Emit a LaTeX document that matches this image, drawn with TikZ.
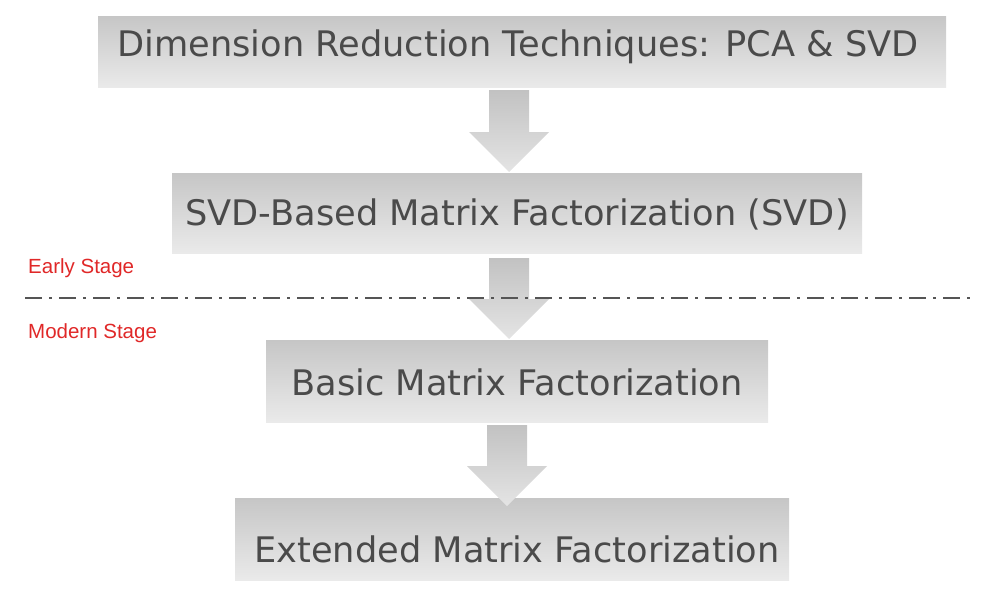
\documentclass[tikz,border=0pt]{standalone}
\usepackage{fontspec}
\setmainfont{DejaVu Sans}
\newfontfamily\labelfont{Liberation Sans}
\usetikzlibrary{calc}
\definecolor{boxtop}{HTML}{C6C6C6}
\definecolor{boxbot}{HTML}{EAEAEA}
\definecolor{arrtop}{HTML}{C2C2C2}
\definecolor{arrbot}{HTML}{E4E4E4}
\definecolor{txtgray}{HTML}{4A4A4A}
\definecolor{stagered}{HTML}{E02828}
\definecolor{linegray}{HTML}{555555}
\tikzset{
  stagebox/.style={rectangle, top color=boxtop, bottom color=boxbot, draw=none, inner sep=0pt},
  boxtext/.style={font=\fontsize{35.2}{40}\selectfont, text=txtgray, inner sep=0pt},
  arrowfill/.style={top color=arrtop, bottom color=arrbot, draw=none},
  stagelabel/.style={font=\labelfont\fontsize{20.5}{24}\selectfont, text=stagered, anchor=west, inner sep=0pt},
  divider/.style={draw=linegray, line width=2pt, dash pattern=on 17pt off 7pt on 3pt off 7pt}
}
\newcommand\blockarrow[2]{%
  \shade[arrowfill] ($(#1)+(-20,0)$) -- ($(#1)+(20,0)$) -- ($(#2)+(20,-40)$) -- ($(#2)+(40,-40)$) -- (#2) -- ($(#2)+(-40,-40)$) -- ($(#2)+(-20,-40)$) -- cycle;}
\begin{document}
\begin{tikzpicture}[x=1pt, y=-1pt]
\useasboundingbox (0,0) rectangle (1006,600);
% boxes
\node[stagebox, minimum width=848pt, minimum height=71pt] (b1) at (522,51.5) {};
\node[stagebox, minimum width=690pt, minimum height=80pt] (b2) at (517,213) {};
\node[stagebox, minimum width=502pt, minimum height=82pt] (b3) at (517,381) {};
\node[stagebox, minimum width=554pt, minimum height=82pt] (b4) at (512,539) {};
% texts
\node[boxtext] (t1) at (518,47) {Dimension Reduction Techniques: PCA \& SVD};
\node[boxtext] (t2) at (517,214) {SVD-Based Matrix Factorization (SVD)};
\node[boxtext] (t3) at (517,382) {Basic Matrix Factorization};
\node[boxtext] (t4) at (517,549) {Extended Matrix Factorization};
% arrows
\coordinate (a1s) at (509,90);  \coordinate (a1e) at (509,172);
\coordinate (a2s) at (509,258); \coordinate (a2e) at (509,339);
\coordinate (a3s) at (507,425); \coordinate (a3e) at (507,506);
\blockarrow{a1s}{a1e}
\blockarrow{a2s}{a2e}
\blockarrow{a3s}{a3e}
% divider
\coordinate (dl) at (25,298);
\coordinate (dr) at (972,298);
\draw[divider] (dl) -- (dr);
% stage labels
\node[stagelabel] (early) at (28,268) {Early Stage};
\node[stagelabel] (modern) at (28,333) {Modern Stage};
\end{tikzpicture}
\end{document}
